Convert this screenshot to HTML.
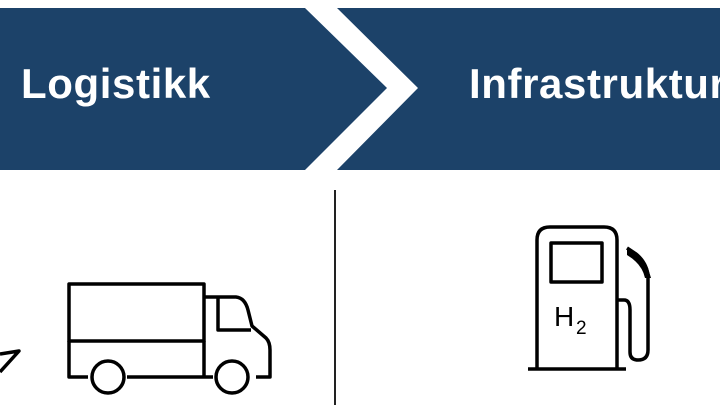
<!DOCTYPE html>
<html><head><style>
html,body{margin:0;padding:0;background:#fff;width:720px;height:405px;overflow:hidden}
svg{display:block}
</style></head><body>
<svg width="720" height="405" viewBox="0 0 720 405" xmlns="http://www.w3.org/2000/svg">
<polygon points="0,8 305,8 387,88 305,170 0,170" fill="#1c4269"/>
<polygon points="337,8 720,8 720,170 337,170 418,88" fill="#1c4269"/>
<text x="21" y="98" font-family="Liberation Sans, sans-serif" font-weight="bold" font-size="42" fill="#fff" letter-spacing="0.6">Logistikk</text>
<text x="469" y="98" font-family="Liberation Sans, sans-serif" font-weight="bold" font-size="42" fill="#fff" letter-spacing="0.6">Infrastruktur</text>
<line x1="335" y1="190" x2="335" y2="405" stroke="#222" stroke-width="2"/>
<g fill="none" stroke="#000" stroke-width="3.5" stroke-linejoin="round">
<polyline points="0,354 19,351 0,372"/>
<rect x="69" y="284" width="135" height="57"/>
<polyline points="69,341 69,377 88,377"/>
<line x1="127" y1="377" x2="213" y2="377"/>
<polyline points="204,341 204,377"/>
<path d="M204,297 L236,297 Q245,298 248,310 L252,326 L266,338 Q270,342 270,350 L270,377 L256,377"/>
<polyline points="218,297 218,330 251,330"/>
<circle cx="108" cy="377" r="16"/>
<circle cx="232" cy="377" r="16"/>
<path d="M537,368 L537,240 Q537,227 550,227 L604,227 Q617,227 617,240 L617,368"/>
<line x1="528" y1="369" x2="626" y2="369"/>
<rect x="551" y="243" width="51" height="39"/>
<path d="M617,300 L624,300 Q630,300 630,310 L630,352 Q630,360 638,360 Q648,360 648,350 L648,275 Q646,262 636,254 L627,248"/>
</g>
<path d="M627,248 Q640,252 648,268 L651,278 L645,278 Q642,264 627,255 Z" fill="#000"/>
<text x="554" y="326" font-family="Liberation Sans, sans-serif" font-size="28" fill="#000">H</text>
<text x="576" y="334" font-family="Liberation Sans, sans-serif" font-size="19" fill="#000">2</text>
</svg>
</body></html>
